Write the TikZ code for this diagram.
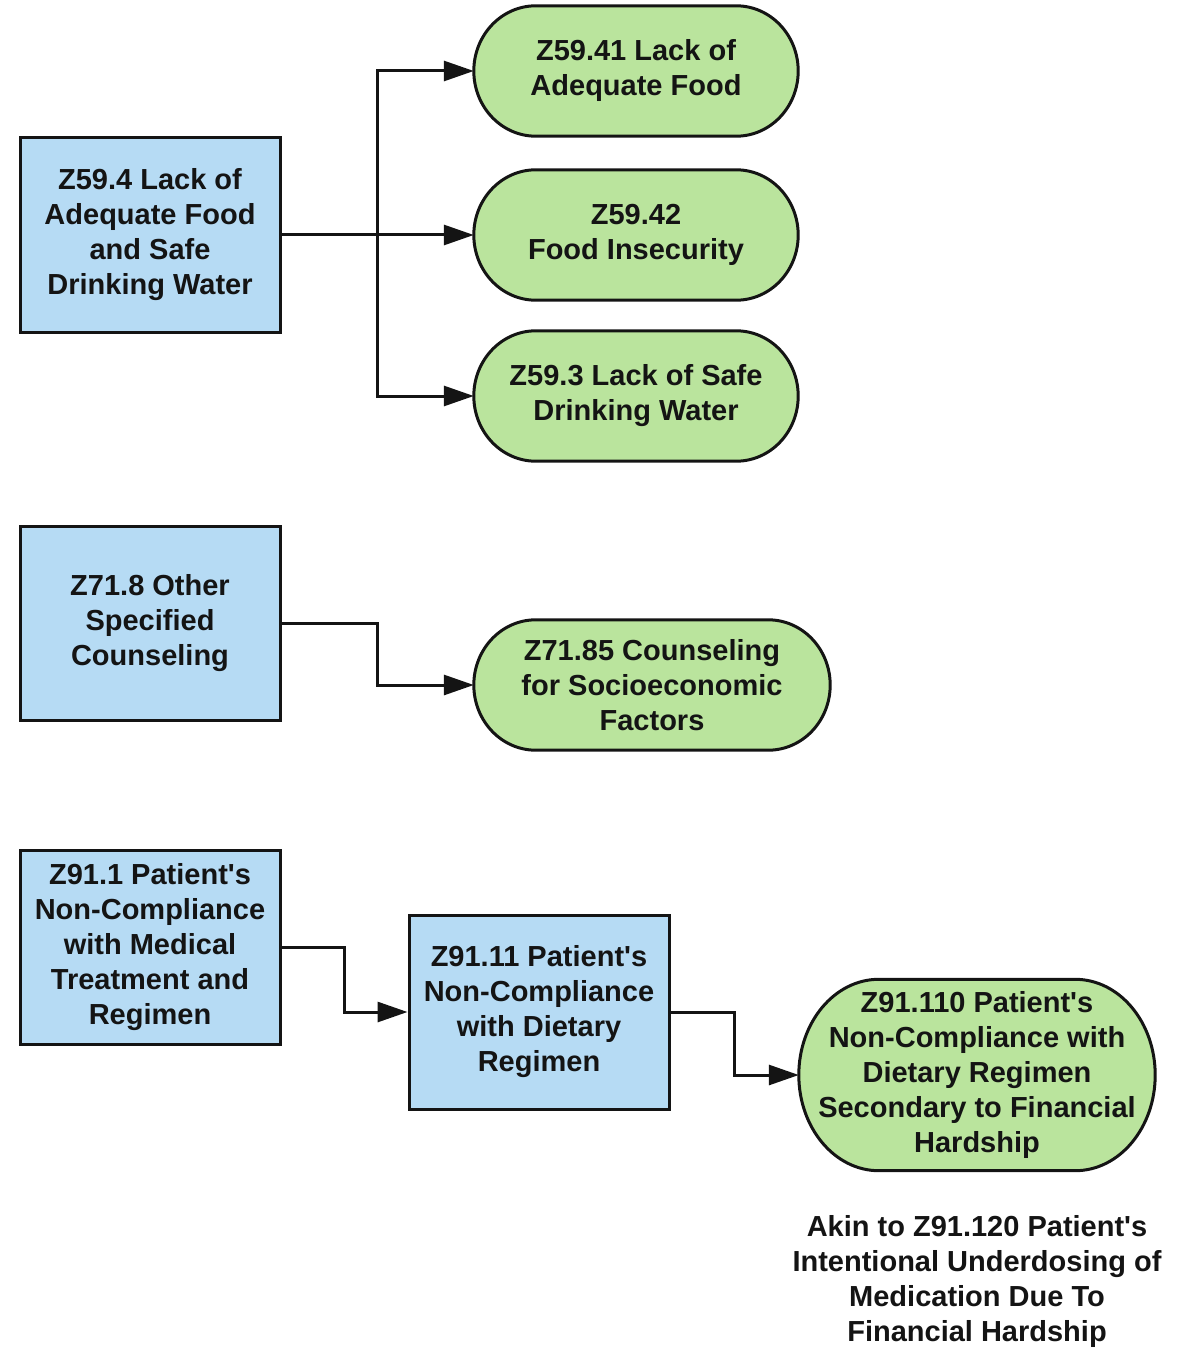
\documentclass[tikz,border=0pt]{standalone}
\usepackage{fontspec}
\setmainfont{Liberation Sans}
\usetikzlibrary{arrows.meta,backgrounds,calc}
\definecolor{boxblue}{RGB}{182,219,244}
\definecolor{termgreen}{RGB}{186,228,157}
\definecolor{ink}{RGB}{20,20,20}
\newcommand{\apos}{\textquotesingle}
\tikzset{
  label text/.style={font=\fontsize{29}{35}\selectfont\bfseries, text=ink, align=center, inner sep=0pt},
  codebox/.style={label text, draw=ink, line width=3pt, fill=boxblue, minimum width=260pt, minimum height=194pt},
  termnode/.style={label text, minimum width=#1, minimum height=130pt},
  termshape/.style={draw=ink, line width=3pt, fill=termgreen},
  link/.style={draw=ink, line width=3pt, -{Triangle[length=30pt,width=20pt]}},
}
% stadium outline behind a node: #1 node name, #2 horizontal end radius in pt
\newcommand{\termoutline}[2]{%
  \path let \p1=(#1.north west), \p2=(#1.south east), \n1={(\y1-\y2)/2} in
    [termshape] ({\x1+#2pt},\y1) -- ({\x2-#2pt},\y1)
    arc[start angle=90,end angle=-90,x radius=#2pt,y radius=\n1]
    -- ({\x1+#2pt},\y2)
    arc[start angle=270,end angle=90,x radius=#2pt,y radius=\n1] -- cycle;}
\begin{document}
\begin{tikzpicture}[x=1pt,y=-1pt]
\useasboundingbox (0,0) rectangle (1183,1348);

% first group: food and water
\node[codebox] (z594) at (150,235) {Z59.4 Lack of\\Adequate Food\\and Safe\\Drinking Water};
\node[termnode=324pt] (z5941) at (636,71) {Z59.41 Lack of\\Adequate Food};
\node[termnode=324pt] (z5942) at (636,235) {Z59.42\\Food Insecurity};
\node[termnode=324pt] (z593) at (636,396) {Z59.3 Lack of Safe\\Drinking Water};

% second group: counseling
\node[codebox] (z718) at (150,623) {Z71.8 Other\\Specified\\Counseling};
\node[termnode=356pt] (z7185) at (652,685) {Z71.85 Counseling\\for Socioeconomic\\Factors};

% third group: non-compliance
\node[codebox] (z911) at (150,947) {Z91.1 Patient\apos s\\Non-Compliance\\with Medical\\Treatment and\\Regimen};
\node[codebox] (z9111) at (539,1012) {Z91.11 Patient\apos s\\Non-Compliance\\with Dietary\\Regimen};
\node[label text, minimum width=356pt, minimum height=191pt] (z91110) at (977,1075)
  {Z91.110 Patient\apos s\\Non-Compliance with\\Dietary Regimen\\Secondary to Financial\\Hardship};
\node[label text] (note) at (977,1281)
  {Akin to Z91.120 Patient\apos s\\Intentional Underdosing of\\Medication Due To\\Financial Hardship};

\begin{scope}[on background layer]
  \termoutline{z5941}{62}
  \termoutline{z5942}{62}
  \termoutline{z593}{62}
  \termoutline{z7185}{62}
  \termoutline{z91110}{80}
\end{scope}

% elbow connectors
\coordinate (busA) at (377,0);
\coordinate (busB) at (377,0);
\coordinate (busC) at (344,0);
\coordinate (busD) at (734,0);
\draw[link] (z594.east) -| (busA |- z5941.west) -- (z5941.west);
\draw[link] (z594.east) -- (z5942.west);
\draw[link] (z594.east) -| (busA |- z593.west) -- (z593.west);
\draw[link] (z718.east) -| (busB |- z7185.west) -- (z7185.west);
\draw[link] (z911.east) -| (busC |- z9111.west) -- (z9111.west);
\draw[link] (z9111.east) -| (busD |- z91110.west) -- (z91110.west);
\end{tikzpicture}
\end{document}
